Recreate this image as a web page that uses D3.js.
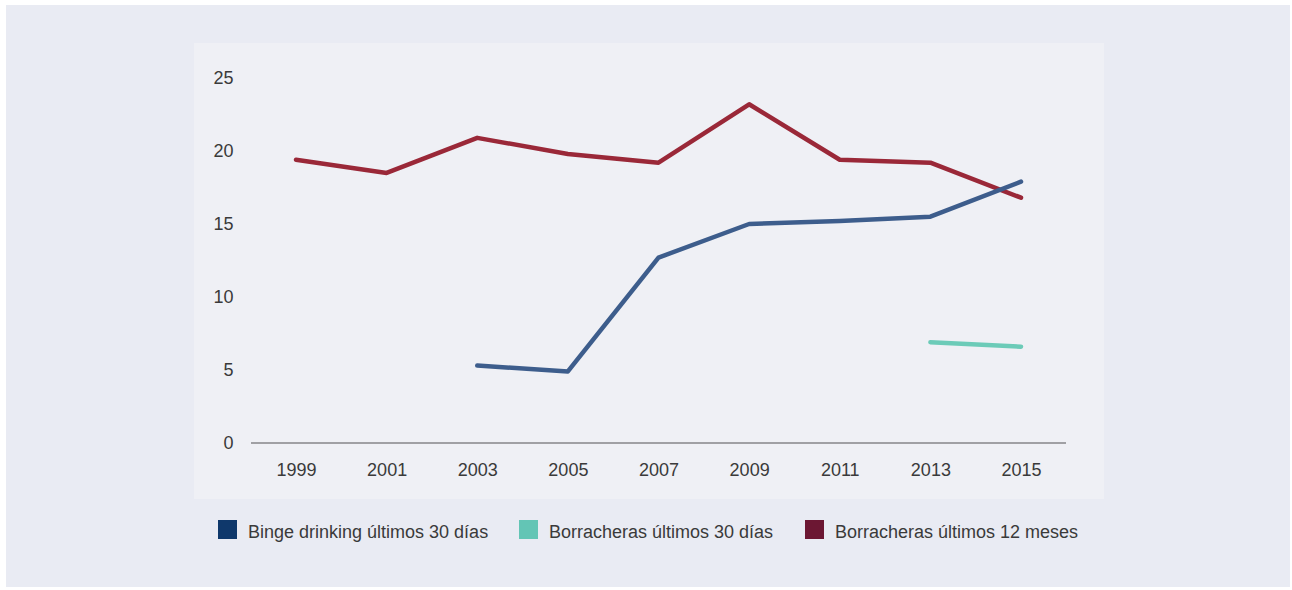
<!DOCTYPE html>
<html><head><meta charset="utf-8">
<script src="https://cdn.jsdelivr.net/npm/d3@7"></script>
<style>
html,body{margin:0;padding:0;background:#fff;}
svg{display:block;font-family:"Liberation Sans",Arial,sans-serif;}
</style></head>
<body><svg id="c" width="1292" height="590"></svg>
<script>
const years = ["1999","2001","2003","2005","2007","2009","2011","2013","2015"];
const bingeDrinking30 = [null,null,5.3,4.9,12.7,15.0,15.2,15.5,17.9];
const borracheras30 = [null,null,null,null,null,null,null,6.9,6.6];
const borracheras12 = [19.4,18.5,20.9,19.8,19.2,23.2,19.4,19.2,16.8];
const yTicks = [0,5,10,15,20,25];
const seriesNames = ["Binge drinking últimos 30 días","Borracheras últimos 30 días","Borracheras últimos 12 meses"];
const lineColors = ["#3d5d8c","#6ccbb8","#9a2838"];
const legendColors = ["#0f386b","#63c5b5","#6c1733"];

const svg = d3.select("#c");
svg.append("rect").attr("x",6).attr("y",5).attr("width",1284).attr("height",582).attr("fill","#e9ebf3");
svg.append("rect").attr("x",194).attr("y",43).attr("width",910).attr("height",456).attr("fill","#eff0f5");

const x = d3.scalePoint().domain(years).range([296,1021]);
const y = d3.scaleLinear().domain([0,25]).range([443,78]);

// y labels
svg.append("g").selectAll("text").data(yTicks).join("text")
  .attr("x",233.5).attr("y",d=>y(d)).attr("dy","0.36em").attr("text-anchor","end")
  .attr("font-size",18).attr("fill","#3a3a3a").text(d=>d);

// x axis
const xAxis = d3.axisBottom(x).tickSize(0).tickPadding(20);
const gx = svg.append("g").attr("transform","translate(0,443)").call(xAxis);
gx.select(".domain").remove();
gx.selectAll("text").attr("font-size",18).attr("fill","#3a3a3a").attr("font-family","'Liberation Sans',Arial,sans-serif");
svg.append("line").attr("x1",251).attr("x2",1066).attr("y1",y(0)).attr("y2",y(0))
  .attr("stroke","#a0a0a4").attr("stroke-width",2);

const seriesData = [bingeDrinking30,borracheras30,borracheras12];
const line = d3.line().defined(d=>d.v!=null).x(d=>x(d.year)).y(d=>y(d.v));
[2,0,1].forEach(i=>{
  const data = years.map((yr,j)=>({year:yr,v:seriesData[i][j]}));
  svg.append("path").datum(data).attr("d",line).attr("fill","none")
    .attr("stroke",lineColors[i]).attr("stroke-width",4.5)
    .attr("stroke-linecap","round").attr("stroke-linejoin","round");
});

// legend
const legX = [218,519,805];
const lg = svg.append("g");
seriesNames.forEach((n,i)=>{
  lg.append("rect").attr("x",legX[i]).attr("y",520).attr("width",19).attr("height",19).attr("fill",legendColors[i]);
  lg.append("text").attr("x",legX[i]+30).attr("y",532).attr("dy","0.36em")
    .attr("font-size",18).attr("fill","#3a3a3a").text(n);
});
</script></body></html>
